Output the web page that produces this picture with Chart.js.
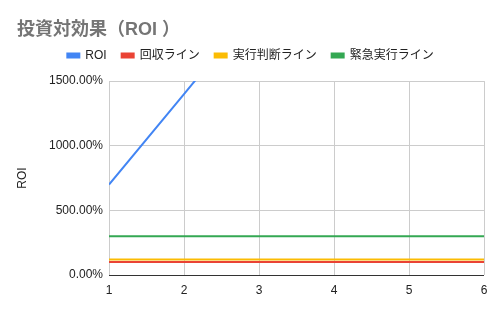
<!DOCTYPE html>
<html>
<head>
<meta charset="utf-8">
<script src="https://cdn.jsdelivr.net/npm/chart.js@4"></script>
<style>
  body { margin: 0; background: #fff; }
  #wrap { width: 500px; height: 311px; }
</style>
</head>
<body>
<div id="wrap"><canvas id="c" width="500" height="311"></canvas></div>
<script>
const xValues = [1, 2, 3, 4, 5, 6]
const roi = [700, 1400, 2100, 2800, 3500, 4200]
const payback = [100, 100, 100, 100, 100, 100]
const decision = [120, 120, 120, 120, 120, 120]
const urgent = [300, 300, 300, 300, 300, 300]
const yTicks = [0, 500, 1000, 1500]

const fontFamily = "'Liberation Sans', Arial, 'Noto Sans CJK JP', sans-serif"

function pts(vals) {
  return vals.map((v, i) => ({ x: xValues[i], y: v }))
}

function series(label, vals, color) {
  return {
    label: label,
    data: pts(vals),
    borderColor: color,
    backgroundColor: color,
    borderWidth: 2,
    pointRadius: 0,
    tension: 0
  }
}

// legend gets a fixed height so the plot starts where the original does
const legendHeight = {
  id: 'legendHeight',
  beforeInit(chart) {
    const fit = chart.legend.fit
    chart.legend.fit = function () {
      fit.bind(chart.legend)()
      this.height = 46.5
    }
  }
}

new Chart(document.getElementById('c').getContext('2d'), {
  type: 'line',
  data: {
    datasets: [
      series('ROI', roi, '#4285f4'),
      series('回収ライン', payback, '#ea4335'),
      series('実行判断ライン', decision, '#fbbc04'),
      series('緊急実行ライン', urgent, '#34a853')
    ]
  },
  plugins: [legendHeight],
  options: {
    responsive: false,
    animation: false,
    layout: { padding: { left: 17, right: 16, top: 8, bottom: 0 } },
    plugins: {
      title: {
        display: true,
        text: '投資対効果（ROI ）',
        align: 'start',
        color: '#757575',
        font: { family: fontFamily, size: 18, weight: 'bold' },
        padding: { top: 11, bottom: -6 }
      },
      legend: {
        position: 'top',
        labels: {
          color: '#222',
          font: { family: fontFamily, size: 12 },
          boxWidth: 12,
          boxHeight: 4,
          padding: 15
        }
      },
      tooltip: { enabled: false }
    },
    scales: {
      x: {
        type: 'linear',
        min: 1,
        max: 6,
        afterFit: s => { s.height = 36 },
        ticks: {
          stepSize: 1,
          color: '#222',
          font: { family: fontFamily, size: 12 },
          maxRotation: 0,
          padding: 8
        },
        grid: { color: '#cccccc', drawTicks: false },
        border: { display: false }
      },
      y: {
        min: 0,
        max: 1500,
        afterFit: s => { s.width = 92 },
        afterBuildTicks: s => { s.ticks = yTicks.map(v => ({ value: v })) },
        ticks: {
          color: '#222',
          font: { family: fontFamily, size: 12 },
          padding: 6,
          callback: v => v.toFixed(2) + '%'
        },
        title: {
          display: true,
          text: 'ROI',
          color: '#222',
          font: { family: fontFamily, size: 12 },
          padding: { top: -2, bottom: 4 }
        },
        grid: {
          drawTicks: false,
          color: ctx => ctx.tick && ctx.tick.value === 0 ? '#333333' : '#cccccc'
        },
        border: { display: false }
      }
    }
  }
})
</script>
</body>
</html>
